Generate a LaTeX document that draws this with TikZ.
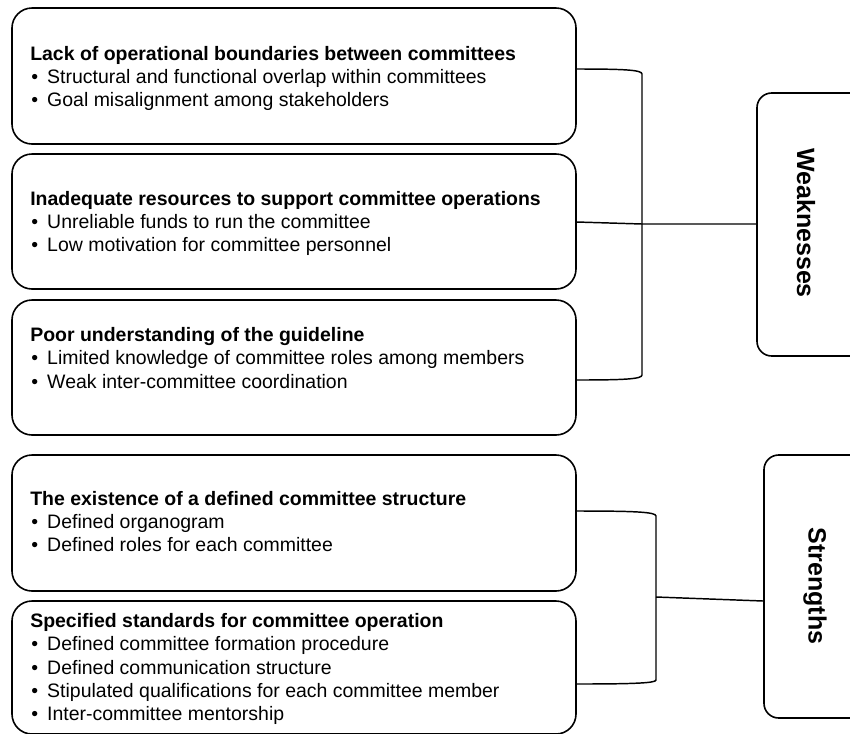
\documentclass[tikz,border=0pt]{standalone}
\usepackage{fontspec}
\setmainfont{Liberation Sans}
\begin{document}
\begin{tikzpicture}[x=0.75pt,y=-0.75pt,
  box/.style={draw, line width=1.2pt, rounded corners=15pt, minimum width=423pt, inner sep=0pt},
  side/.style={draw, line width=1.2pt, rounded corners=11pt, inner sep=0pt},
  ttl/.style={anchor=base west, inner sep=0pt, font=\fontsize{14.6}{17.5}\selectfont\bfseries},
  itm/.style={anchor=base west, inner sep=0pt, font=\fontsize{14.6}{17.5}\selectfont},
  lbl/.style={rotate=-90, inner sep=0pt, font=\fontsize{18.75}{22}\selectfont\bfseries},
  conn/.style={line width=1.1pt}]
\useasboundingbox (0,0) rectangle (850,733);
\clip (0,0) rectangle (850,733);
\newcommand{\bul}{\makebox[12pt][l]{•}}
% content boxes
\node[box, minimum height=102pt]   (b1) at (294,76) {};
\node[box, minimum height=101.25pt] (b2) at (294,221.5) {};
\node[box, minimum height=101.25pt] (b3) at (294,367.5) {};
\node[box, minimum height=102pt]   (b4) at (294,523) {};
\node[box, minimum height=99.75pt] (b5) at (294,667.5) {};
% side boxes
\node[side, minimum width=81pt, minimum height=197.25pt] (wb) at (811,224.5) {};
\node[side, minimum width=76.5pt, minimum height=197.25pt] (sb) at (815,586.5) {};
\node[lbl] (wt) at (806,223) {Weaknesses};
\node[lbl] (st) at (815,586) {Strengths};
% texts box 1
\node[ttl] (t1) at (30,60) {Lack of operational boundaries between committees};
\node[itm] (t1a) at (31,83.3) {\bul Structural and functional overlap within committees};
\node[itm] (t1b) at (31,106.6) {\bul Goal misalignment among stakeholders};
% box 2
\node[ttl] (t2) at (30,205) {Inadequate resources to support committee operations};
\node[itm] (t2a) at (31,228.3) {\bul Unreliable funds to run the committee};
\node[itm] (t2b) at (31,251.6) {\bul Low motivation for committee personnel};
% box 3
\node[ttl] (t3) at (30,341) {Poor understanding of the guideline};
\node[itm] (t3a) at (31,364.6) {\bul Limited knowledge of committee roles among members};
\node[itm] (t3b) at (31,388) {\bul Weak inter-committee coordination};
% box 4
\node[ttl] (t4) at (30,505) {The existence of a defined committee structure};
\node[itm] (t4a) at (31,528.3) {\bul Defined organogram};
\node[itm] (t4b) at (31,551.6) {\bul Defined roles for each committee};
% box 5
\node[ttl] (t5) at (30,627) {Specified standards for committee operation};
\node[itm] (t5a) at (31,650.7) {\bul Defined committee formation procedure};
\node[itm] (t5b) at (31,674) {\bul Defined communication structure};
\node[itm] (t5c) at (31,697.3) {\bul Stipulated qualifications for each committee member};
\node[itm] (t5d) at (31,720.6) {\bul Inter-committee mentorship};
% brackets
\coordinate (wj) at (642,224);
\coordinate (sj) at (656,597);
\draw[conn] (b1.east |- 0,69) .. controls (625,69) and (642,70) .. (642,74)
  -- (642,375) .. controls (642,379) and (625,380) .. (b3.east |- 0,380);
\draw[conn] (b2.east |- 0,222) -- (wj) -- (wb.west |- wj);
\draw[conn] (b4.east |- 0,511) .. controls (635,511) and (656,512) .. (656,516)
  -- (656,680) .. controls (656,683) and (635,684) .. (b5.east |- 0,684);
\draw[conn] (sj) -- (sb.west |- 0,601);
\end{tikzpicture}
\end{document}
